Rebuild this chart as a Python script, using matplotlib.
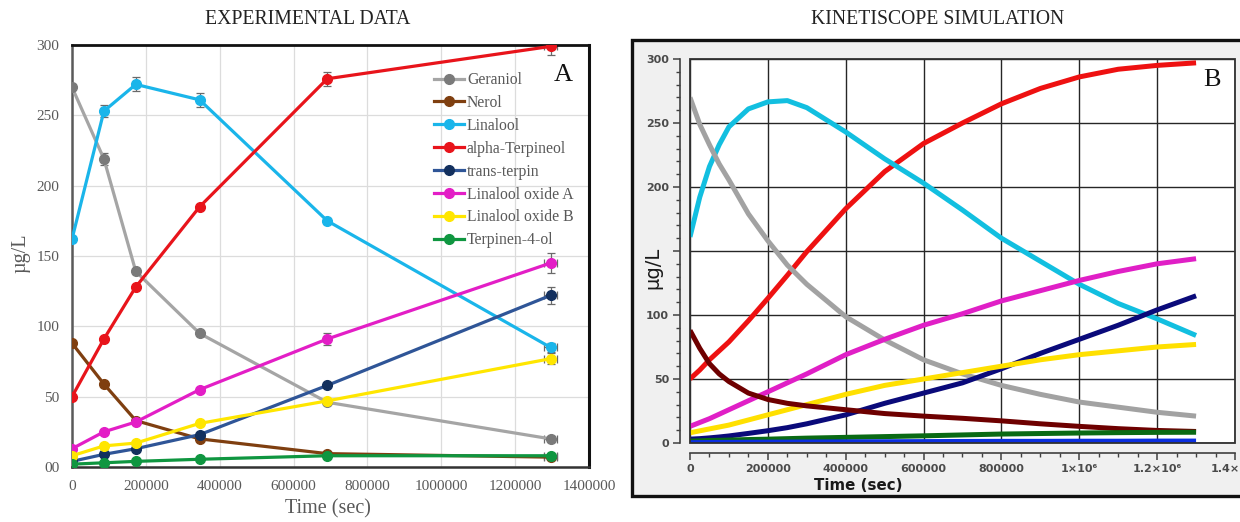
import matplotlib
matplotlib.use("Agg")
import matplotlib.pyplot as plt
from matplotlib.patches import Rectangle
from matplotlib.lines import Line2D
from matplotlib.ticker import MultipleLocator

# ---------------- data: experimental (panel A) ----------------
exp_time = [0, 86400, 172800, 345600, 691200, 1296000]
species = ["Geraniol", "Nerol", "Linalool", "alpha-Terpineol", "trans-terpin",
           "Linalool oxide A", "Linalool oxide B", "Terpinen-4-ol"]
exp_geraniol = [270, 219, 139, 95, 46, 20]
exp_nerol = [88, 59, 33, 20, 9.5, 7]
exp_linalool = [162, 253, 272, 261, 175, 85]
exp_aterp = [50, 91, 128, 185, 276, 299]
exp_terpin = [4, 9, 13, 23, 58, 122]
exp_loxA = [13, 25, 32, 55, 91, 145]
exp_loxB = [8, 15, 17, 31, 47, 77]
exp_t4ol = [2, 3, 4, 5.5, 8, 8]
err_geraniol = [2, 4, 2, 2, 2, 2]
err_nerol = [1, 1, 1, 1, 1, 1]
err_linalool = [2, 4, 5, 5, 2, 3]
err_aterp = [1, 1, 1, 1, 5, 6]
err_terpin = [1, 1, 1, 1, 1, 6]
err_loxA = [1, 1, 1, 1, 4, 7]
err_loxB = [1, 1, 1, 1, 1, 4]
err_t4ol = [0.5, 0.5, 0.5, 0.5, 0.5, 0.5]
xerr_last = 17000

# ---------------- data: simulation (panel B) ----------------
sim_time = [0, 25000, 50000, 75000, 100000, 150000, 200000, 250000, 300000,
            400000, 500000, 600000, 700000, 800000, 900000, 1000000,
            1100000, 1200000, 1300000]
sim_geraniol = [270, 249, 233, 218, 205.5, 179, 158, 139, 124, 98.7, 80.5, 65, 54, 45, 38, 32, 28, 24, 21]
sim_nerol = [88, 74, 62, 54, 48, 39, 34, 31, 29, 26, 23, 21, 19.3, 17.3, 15, 13, 11.2, 9.8, 9]
sim_linalool = [161, 192, 216, 233, 247, 261, 266.5, 267.5, 262, 243, 222, 203, 182, 160, 142, 124, 109, 97, 84]
sim_aterp = [50, 57, 65, 72, 79, 95.5, 113, 131, 149.5, 183, 212, 234, 250, 265, 277, 286, 292, 295, 297]
sim_loxA = [13, 16, 19, 22.5, 26, 33, 40, 47, 54, 69, 81, 92, 101, 111, 119, 127, 134, 140, 144]
sim_loxB = [8, 9.5, 11, 12.5, 14, 18, 22, 26, 30, 38, 45, 50, 55, 60, 65, 69, 72, 75, 77]
sim_terpin = [3, 3.4, 4, 4.7, 5.5, 7.5, 9.6, 12, 15, 22, 31, 39, 47, 58, 70, 81, 92, 104, 115]
sim_t4ol = [1.5, 1.7, 2, 2.1, 2.3, 2.7, 3, 3.4, 3.8, 4.4, 5, 5.6, 6.3, 7, 7.4, 7.8, 8.1, 8.3, 8.4]
sim_other = [0.3, 0.35, 0.4, 0.45, 0.5, 0.6, 0.7, 0.7, 0.8, 0.9, 1.0, 1.1, 1.2, 1.3, 1.3, 1.4, 1.4, 1.5, 1.5]

left_xticks = [0, 200000, 400000, 600000, 800000, 1000000, 1200000, 1400000]
left_xticklabels = ["0", "200000", "400000", "600000", "800000", "1000000", "1200000", "1400000"]
left_yticks = [0, 50, 100, 150, 200, 250, 300]
left_yticklabels = ["00", "50", "100", "150", "200", "250", "300"]
right_xticklabels = ["0", "200000", "400000", "600000", "800000", "1×10⁶", "1.2×10⁶", "1.4×10⁶"]
right_yticklabels = ["0", "50", "100", "", "200", "250", "300"]

W, H = 1240, 522
fig = plt.figure(figsize=(W / 100, H / 100), dpi=100)
SERIF = ["Liberation Serif", "DejaVu Serif"]

def fx(px):
    return px / W

def fy(py):
    return 1 - py / H

# ================= Panel A =================
axA = fig.add_axes([fx(72), fy(467), fx(589 - 72), (467 - 45) / H])
exp_series = [exp_geraniol, exp_nerol, exp_linalool, exp_aterp, exp_terpin, exp_loxA, exp_loxB, exp_t4ol]
exp_errs = [err_geraniol, err_nerol, err_linalool, err_aterp, err_terpin, err_loxA, err_loxB, err_t4ol]
line_cols = ["#a5a5a5", "#7f3f10", "#1ab5ea", "#e8141b", "#2f5597", "#e31ec6", "#ffe600", "#0f9640"]
mark_cols = ["#7a7a7a", "#7f3f10", "#1ab5ea", "#e8141b", "#13305e", "#e31ec6", "#ffe600", "#0f9640"]

for vals, errs, lc, mc in zip(exp_series, exp_errs, line_cols, mark_cols):
    axA.errorbar(exp_time, vals, yerr=errs, fmt="none", ecolor="#6a6a6a",
                 elinewidth=0.9, capsize=3, capthick=0.9, zorder=2)
    axA.errorbar([exp_time[-1]], [vals[-1]], xerr=[xerr_last], fmt="none",
                 ecolor="#6a6a6a", elinewidth=0.9, capsize=3, capthick=0.9, zorder=2)
    axA.plot(exp_time, vals, color=lc, lw=2.3, marker="o", markersize=7,
             markerfacecolor=mc, markeredgecolor=mc, zorder=3)

axA.set_xlim(0, 1400000)
axA.set_ylim(0, 300)
axA.set_xticks(left_xticks)
axA.set_xticklabels(left_xticklabels)
axA.set_yticks(left_yticks)
axA.set_yticklabels(left_yticklabels)
axA.tick_params(length=0, labelsize=11, labelcolor="#595959", pad=9)
for lab in axA.get_xticklabels() + axA.get_yticklabels():
    lab.set_fontfamily(SERIF)
axA.grid(True, color="#dcdcdc", lw=0.9)
axA.set_axisbelow(True)
axA.spines["top"].set_color("#111111")
axA.spines["right"].set_color("#111111")
axA.spines["top"].set_linewidth(2.0)
axA.spines["right"].set_linewidth(2.2)
axA.spines["left"].set_color("#5a5a5a")
axA.spines["left"].set_linewidth(1.8)
axA.spines["bottom"].set_color("#333333")
axA.spines["bottom"].set_linewidth(1.8)

handles = [Line2D([0], [0], color=lc, lw=2.3, marker="o", markersize=7,
                  markerfacecolor=mc, markeredgecolor=mc)
           for lc, mc in zip(line_cols, mark_cols)]
leg = fig.legend(handles, species, loc="upper left",
                 bbox_to_anchor=(fx(434), fy(72)), bbox_transform=fig.transFigure,
                 frameon=False, prop={"family": SERIF, "size": 11.3},
                 labelspacing=0.44, handlelength=1.9, handletextpad=0.2,
                 borderpad=0, borderaxespad=0)
for t in leg.get_texts():
    t.set_color("#595959")

fig.text(fx(563), fy(75), "A", fontsize=19, family=SERIF, ha="center", va="center", color="#111111")
fig.text(fx(308), fy(20), "EXPERIMENTAL DATA", fontsize=14.2, family=SERIF, ha="center",
         va="center", color="#222222")
fig.text(fx(328), fy(509), "Time (sec)", fontsize=14.5, family=SERIF, ha="center",
         va="center", color="#595959")
fig.text(fx(21), fy(253), "µg/L", fontsize=14.5, family=SERIF, ha="center",
         va="center", rotation=90, color="#595959")

# ================= Panel B =================
frame = Rectangle((fx(632), fy(496)), fx(1260 - 632), (496 - 40) / H,
                  transform=fig.transFigure, facecolor="#f0f0f0",
                  edgecolor="#111111", lw=2.4, zorder=-5)
fig.patches.append(frame)

axB = fig.add_axes([fx(690), fy(443), fx(1235 - 690), (443 - 59) / H])
axB.set_zorder(2)
axB.set_facecolor("white")
sim_series = [sim_aterp, sim_linalool, sim_geraniol, sim_loxA, sim_terpin, sim_loxB,
              sim_nerol, sim_t4ol, sim_other]
sim_cols = ["#ee1111", "#12bfe0", "#a2a2a2", "#e01fc6", "#0a0a7a", "#ffe000",
            "#6e0000", "#0a6a14", "#0a2ee0"]
for vals, c in zip(sim_series, sim_cols):
    axB.plot(sim_time, vals, color=c, lw=3.6, solid_capstyle="butt", zorder=3)

axB.set_xlim(0, 1400000)
axB.set_ylim(0, 300)
axB.set_xticks(left_xticks)
axB.set_xticklabels(right_xticklabels)
axB.set_yticks(left_yticks)
axB.set_yticklabels(right_yticklabels)
axB.xaxis.set_minor_locator(MultipleLocator(50000))
axB.yaxis.set_minor_locator(MultipleLocator(10))
axB.grid(True, which="major", color="#262626", lw=1.0)
axB.set_axisbelow(True)
for s in ["top", "right"]:
    axB.spines[s].set_visible(False)
for s in ["left", "bottom"]:
    axB.spines[s].set_position(("outward", 7))
    axB.spines[s].set_color("#404040")
    axB.spines[s].set_linewidth(1.2)
axB.add_patch(Rectangle((0, 0), 1, 1, transform=axB.transAxes, fill=False,
                        edgecolor="#303030", lw=1.3, zorder=4, clip_on=False))
axB.tick_params(which="major", length=5, width=1.1, color="#404040",
                labelsize=8, labelcolor="#4a4a4a", pad=3)
axB.tick_params(which="minor", length=3, width=1.0, color="#404040")
for lab in axB.get_xticklabels() + axB.get_yticklabels():
    lab.set_fontweight("bold")

fig.text(fx(1212), fy(80), "B", fontsize=19, family=SERIF, ha="center", va="center",
         color="#111111", zorder=5)
fig.text(fx(938), fy(20), "KINETISCOPE SIMULATION", fontsize=14.2, family=SERIF, ha="center",
         va="center", color="#222222")
fig.text(fx(858), fy(486), "Time (sec)", fontsize=10.8, fontweight="bold", ha="center",
         va="center", color="#1a1a1a")
fig.text(fx(653), fy(268), "µg/L", fontsize=14, ha="center", va="center",
         rotation=90, color="#1a1a1a")

fig.savefig("out.png", dpi=100)
